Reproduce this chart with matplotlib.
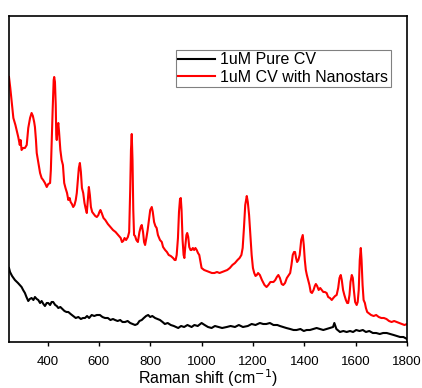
import matplotlib
matplotlib.use("Agg")
import matplotlib.pyplot as plt
import numpy as np

plt.rcParams['font.family'] = ['Liberation Sans', 'DejaVu Sans']

# Red: 1uM CV with Nanostars (wavenumber, intensity a.u.)
red_x = [250,255,262,267,275,286,292,295,299,305,312,319,325,332,338,343,348,351,355,358,
         364,371,377,383,390,397,403,410,413,416,420,424,426,429,432,434,436,439,442,445,
         450,455,460,465,470,476,481,486,490,495,500,505,510,514,518,522,526,530,534,539,
         544,548,553,557,561,565,569,574,580,586,592,598,602,606,611,618,625,635,645,655,
         665,675,685,690,695,700,706,713,718,722,725,728,731,734,737,741,746,752,758,763,
         767,772,776,780,785,790,795,800,806,810,815,820,825,830,838,845,850,858,865,872,
         880,889,895,899,903,908,912,916,919,922,926,930,933,937,941,944,948,952,957,961,
         966,971,976,981,986,991,996,1000,1010,1020,1030,1040,1050,1060,1070,1080,1090,1100,1110,1120,
         1130,1140,1148,1155,1160,1165,1170,1176,1180,1185,1190,1195,1200,1205,1210,1215,1220,1227,1235,1245,
         1253,1260,1268,1275,1280,1287,1293,1299,1305,1312,1318,1325,1332,1340,1345,1350,1355,1360,1364,1368,
         1372,1377,1382,1388,1394,1398,1402,1406,1410,1415,1420,1425,1430,1436,1441,1445,1450,1456,1462,1468,
         1474,1480,1487,1493,1500,1507,1513,1520,1526,1532,1537,1542,1546,1551,1556,1562,1567,1571,1576,1580,
         1585,1589,1593,1598,1604,1608,1612,1616,1620,1623,1627,1631,1636,1640,1645,1650,1660,1670,1680,1690,
         1700,1710,1720,1730,1740,1750,1760,1770,1780,1790,1800]
red_px = [77,88,105,118,125,137,145,140,150,148,148,145,128,118,113,116,122,127,140,153,
          162,173,178,180,183,187,184,183,170,143,110,80,77,82,105,135,140,128,123,132,
          150,160,165,183,188,193,200,198,202,204,207,205,200,193,180,168,163,172,188,193,
          203,208,213,200,187,195,207,212,214,216,217,215,212,210,213,218,220,224,227,230,
          232,235,238,242,241,238,240,237,232,190,150,134,160,210,235,236,240,242,232,227,
          225,232,242,245,238,230,220,210,207,212,222,226,228,235,240,242,247,250,252,255,
          256,258,260,260,255,238,212,199,198,210,240,255,258,245,235,233,237,247,250,250,
          248,250,248,250,253,255,262,268,270,271,272,273,273,272,273,272,271,270,268,265,
          263,260,258,255,248,228,205,196,202,215,235,255,268,273,276,275,273,275,280,285,
          287,285,282,282,282,280,277,275,278,284,285,283,278,275,273,265,255,252,252,258,
          262,260,255,240,235,245,260,270,275,280,285,292,293,290,286,284,286,290,288,290,
          292,292,293,297,298,300,298,296,295,288,278,275,280,290,295,300,303,303,295,282,
          275,278,290,302,305,302,290,260,248,260,285,300,303,308,312,313,315,316,315,317,
          318,318,319,321,322,321,322,323,324,325,324]
red_y = [342 - v for v in red_px]

# Black: 1uM Pure CV
black_x = [250,254,262,273,285,299,305,312,318,325,331,338,345,351,358,364,371,377,384,390,
           397,403,410,416,422,430,436,442,450,458,466,474,481,490,500,510,520,530,538,546,
           554,562,572,582,592,604,614,624,635,645,655,663,673,683,692,702,712,722,732,741,
           750,758,767,775,784,792,800,808,819,829,838,848,857,868,880,892,909,920,932,945,
           961,972,985,1000,1012,1025,1039,1052,1066,1080,1098,1113,1130,1145,1161,1180,1195,1210,1227,1240,
           1252,1266,1280,1295,1305,1317,1330,1345,1358,1370,1385,1398,1409,1422,1435,1448,1461,1474,1487,1500,
           1512,1517,1525,1539,1552,1565,1578,1590,1602,1615,1628,1640,1653,1667,1680,1694,1707,1721,1735,1748,
           1760,1773,1786,1800]
black_px = [268,272,276,280,283,287,290,293,297,301,299,298,300,297,299,300,303,301,304,306,
            303,303,305,302,302,305,306,308,307,309,311,312,312,314,316,318,317,319,318,318,
            316,318,315,316,315,315,317,318,318,320,319,320,321,320,322,322,321,323,324,325,
            324,321,320,318,316,315,317,316,318,319,320,322,324,323,325,326,328,326,327,325,
            327,325,326,323,325,327,328,326,327,328,327,326,327,325,327,326,324,325,323,324,
            324,323,325,325,326,327,328,329,330,330,329,331,330,330,329,328,329,330,329,328,
            327,323,329,332,331,332,331,332,330,331,330,332,331,333,333,334,333,333,334,335,
            336,337,337,339]
black_y = [342 - v for v in black_px]

xticks = [400, 600, 800, 1000, 1200, 1400, 1600, 1800]

fig = plt.figure(figsize=(4.22, 3.88), dpi=100)
ax = fig.add_axes([9/422, 1 - 342/388, 398/422, 326/388])

ax.plot(black_x, black_y, color='black', lw=1.5, label='1uM Pure CV')
ax.plot(red_x, red_y, color='#ff0000', lw=1.5, label='1uM CV with Nanostars')

ax.set_xlim(250, 1800)
ax.set_ylim(0, 326)
ax.set_xticks(xticks)
ax.set_xticklabels([str(t) for t in xticks], fontsize=9.5)
ax.set_yticks([])
ax.tick_params(axis='x', direction='out', length=3, width=1, pad=7)
for s in ax.spines.values():
    s.set_linewidth(1.2)

ax.set_xlabel('Raman shift (cm$^{-1}$)', fontsize=11.5, va='center')
ax.xaxis.set_label_coords(0.5, (342 - 378) / 326)

leg = ax.legend(loc='upper left', bbox_to_anchor=((175.7-9)/398, (342-50)/326),
                fontsize=11.5, frameon=True, fancybox=False, framealpha=1,
                edgecolor='#808080', handlelength=2.3, handletextpad=0.35,
                labelspacing=0.15, borderpad=0.15, borderaxespad=0)
leg.get_frame().set_linewidth(0.8)

fig.savefig('out.png', dpi=100)
